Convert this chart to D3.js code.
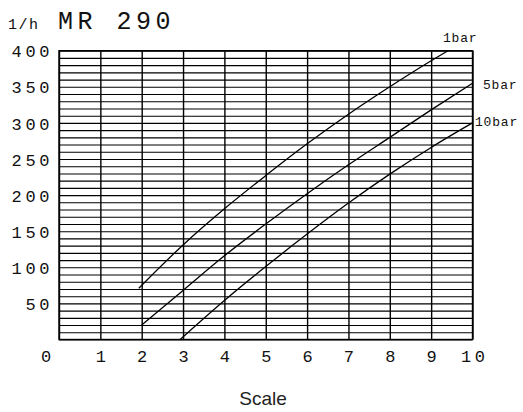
<!DOCTYPE html>
<html>
<head>
<meta charset="utf-8">
<script src="https://cdn.jsdelivr.net/npm/d3@7"></script>
<style>
  html, body { margin: 0; padding: 0; background: #fff; }
  svg { display: block; }
  .cad { font-family: "Liberation Mono", "DejaVu Sans Mono", monospace; fill: #111; }
</style>
</head>
<body>
<svg id="chart" width="523" height="412"></svg>
<script>
// ---- data ----
const xTickValues = [1, 2, 3, 4, 5, 6, 7, 8, 9, 10];
const yLabelValues = [50, 100, 150, 200, 250, 300, 350, 400];
const yGridValues = d3.range(0, 401, 10);
const seriesNames = ["1bar", "5bar", "10bar"];
const scale1bar = [1.93, 3, 4, 5, 6, 7, 8, 9, 9.41];
const flow1bar  = [71, 131, 181, 227, 271, 312, 350, 386, 400];
const scale5bar = [2, 3, 4, 5, 6, 7, 8, 9, 10];
const flow5bar  = [20, 68, 116, 160, 202, 242, 280, 318, 355];
const scale10bar = [2.93, 4, 5, 6, 7, 8, 9, 10];
const flow10bar  = [0, 54, 101, 146, 189, 229, 266, 300];
const titleUnit = "1/h";
const titleText = "MR 290";
const xAxisTitle = "Scale";

const svg = d3.select("#chart");
const x = d3.scaleLinear().domain([0, 10]).range([59, 472.5]);
const y = d3.scaleLinear().domain([0, 400]).range([339.5, 50.7]);

// horizontal grid
const gGrid = svg.append("g").attr("transform", `translate(${x(0)},0)`)
  .call(d3.axisLeft(y).tickValues(yGridValues).tickSize(-(x(10) - x(0))).tickFormat(""));
gGrid.select(".domain").remove();
gGrid.selectAll(".tick line").attr("stroke", "#000").attr("stroke-width", 1.1);

// vertical grid
const gV = svg.append("g").attr("transform", `translate(0,${y(400)})`)
  .call(d3.axisBottom(x).tickValues(d3.range(0, 11)).tickSize(y(0) - y(400)).tickFormat(""));
gV.select(".domain").remove();
gV.selectAll(".tick line").attr("stroke", "#000").attr("stroke-width", 1.4);

// border
svg.append("rect").attr("x", x(0)).attr("y", y(400))
  .attr("width", x(10) - x(0)).attr("height", y(0) - y(400))
  .attr("fill", "none").attr("stroke", "#000").attr("stroke-width", 1.4);

// y labels
const gY = svg.append("g").attr("transform", `translate(${x(0)},0)`)
  .call(d3.axisLeft(y).tickValues(yLabelValues).tickSize(0).tickPadding(6));
gY.select(".domain").remove();
gY.selectAll("text").attr("class", "cad").attr("font-size", 17).attr("letter-spacing", 3.6)
  .attr("dy", "0.36em").attr("font-family", null).attr("fill", null);

// x labels
const gX = svg.append("g").attr("transform", `translate(0,${y(0)})`)
  .call(d3.axisBottom(x).tickValues(xTickValues).tickSize(0).tickPadding(10));
gX.select(".domain").remove();
gX.selectAll("text").attr("class", "cad").attr("font-size", 17).attr("letter-spacing", 3.6)
  .attr("dx", 1.8).attr("font-family", null).attr("fill", null);

svg.append("text").attr("class", "cad").attr("x", 46).attr("y", 362)
  .attr("text-anchor", "middle").attr("font-size", 17).text("0");

// curves
const line = d3.line().x(d => x(d[0])).y(d => y(d[1])).curve(d3.curveMonotoneX);
const series = [
  { name: seriesNames[0], xs: scale1bar, ys: flow1bar },
  { name: seriesNames[1], xs: scale5bar, ys: flow5bar },
  { name: seriesNames[2], xs: scale10bar, ys: flow10bar }
];
series.forEach(s => {
  svg.append("path").datum(s.xs.map((v, i) => [v, s.ys[i]]))
    .attr("d", line).attr("fill", "none").attr("stroke", "#000").attr("stroke-width", 1.3);
});

// series labels
const labelPos = [
  { name: seriesNames[0], x: 443, y: 42 },
  { name: seriesNames[1], x: 483, y: 89 },
  { name: seriesNames[2], x: 475, y: 126 }
];
labelPos.forEach(p => {
  svg.append("text").attr("class", "cad").attr("x", p.x).attr("y", p.y)
    .attr("font-size", 13).attr("letter-spacing", 0.8).text(p.name);
});

// title
svg.append("text").attr("class", "cad").attr("x", 8).attr("y", 29)
  .attr("font-size", 15).attr("letter-spacing", 1.5).text(titleUnit);
svg.append("text").attr("class", "cad").attr("x", 58).attr("y", 29)
  .attr("font-size", 25).attr("letter-spacing", 4.5).text(titleText);

// x axis title
svg.append("text").attr("x", 263).attr("y", 405).attr("text-anchor", "middle")
  .attr("font-family", "Liberation Sans, Arial, sans-serif").attr("font-size", 19)
  .attr("fill", "#222").text(xAxisTitle);
</script>
</body>
</html>
